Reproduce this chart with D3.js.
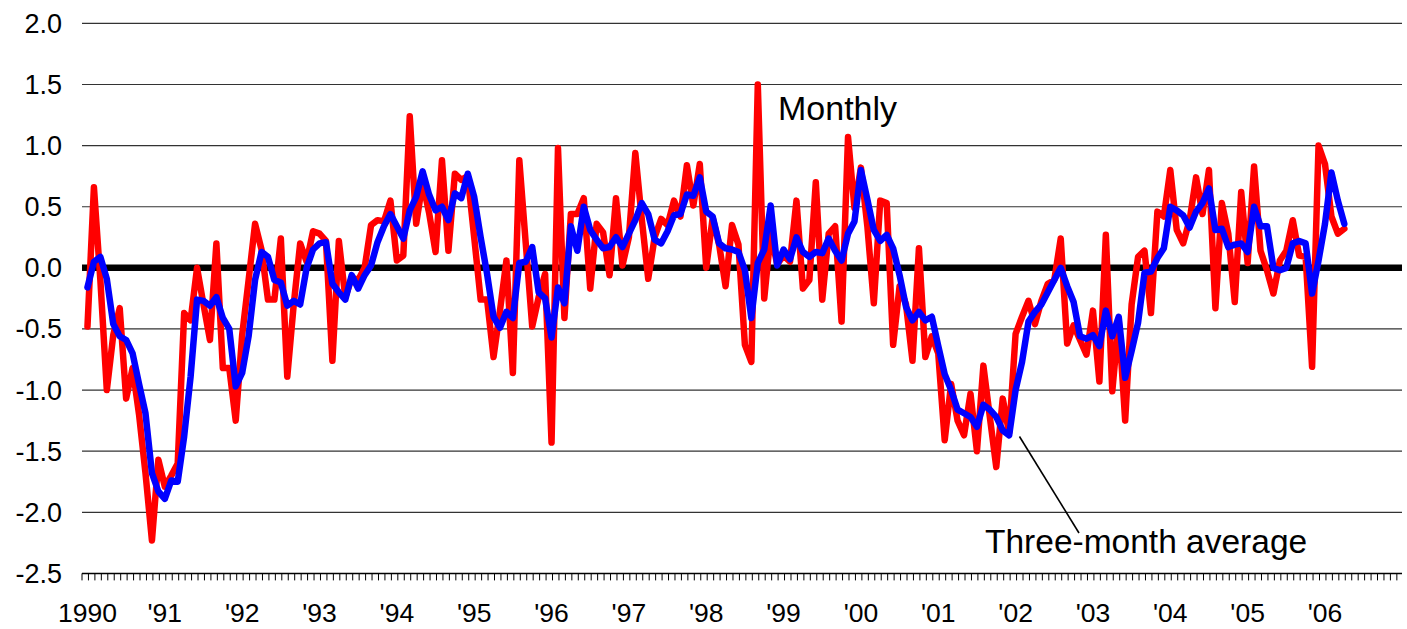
<!DOCTYPE html>
<html><head><meta charset="utf-8">
<script src="https://cdn.jsdelivr.net/npm/d3@7"></script>
<style>
html,body{margin:0;padding:0;background:#fff;}
svg{display:block;}
text{font-family:"Liberation Sans",Arial,Helvetica,sans-serif;fill:#000;}
</style></head>
<body>
<svg id="chart" width="1407" height="629"></svg>
<script>
// ---- data (Jan 1990 .. Apr 2006, one value per month) ----
const monthly = [
-0.48,0.66,-0.1,-1.0,-0.55,-0.33,-1.07,-0.82,-1.2,-1.68,-2.23,-1.57,
-1.79,-1.7,-1.6,-0.37,-0.43,0.0,-0.3,-0.59,0.2,-0.82,-0.82,-1.25,
-0.55,-0.1,0.36,0.15,-0.26,-0.26,0.24,-0.89,-0.3,0.2,0.05,0.3,
0.28,0.22,-0.76,0.22,-0.24,-0.08,-0.1,0.0,0.35,0.39,0.38,0.55,
0.06,0.1,1.24,0.36,0.7,0.45,0.13,0.88,0.14,0.77,0.72,0.75,
0.25,-0.26,-0.26,-0.73,-0.35,0.06,-0.86,0.88,0.2,-0.48,-0.24,-0.05,
-1.43,0.98,-0.41,0.44,0.44,0.57,-0.17,0.36,0.29,-0.06,0.57,0.02,
0.25,0.94,0.4,-0.09,0.25,0.4,0.35,0.55,0.42,0.84,0.51,0.85,
0.0,0.41,0.19,-0.15,0.35,0.19,-0.63,-0.77,1.5,-0.25,0.28,0.03,
0.1,0.05,0.55,-0.17,-0.1,0.7,-0.26,0.28,0.34,-0.44,1.07,0.49,
0.82,0.34,-0.29,0.55,0.53,-0.63,-0.15,-0.3,-0.76,0.16,-0.73,-0.56,
-0.7,-1.41,-0.95,-1.25,-1.37,-1.03,-1.5,-0.8,-1.22,-1.63,-1.07,-1.35,
-0.54,-0.4,-0.27,-0.46,-0.27,-0.13,-0.1,0.24,-0.62,-0.47,-0.59,-0.71,
-0.35,-0.93,0.27,-1.01,-0.43,-1.25,-0.3,0.09,0.14,-0.37,0.46,0.42,
0.8,0.31,0.2,0.39,0.74,0.44,0.8,-0.33,0.53,0.28,-0.28,0.62,
0.04,0.83,0.14,-0.02,-0.21,0.06,0.14,0.39,0.1,0.09,-0.81,1.0,
0.85,0.42,0.28,0.32
];
const threeMonthAvg = [
-0.16,0.05,0.09,-0.09,-0.46,-0.56,-0.59,-0.7,-0.95,-1.19,-1.68,-1.83,
-1.89,-1.74,-1.75,-1.38,-0.89,-0.26,-0.27,-0.31,-0.24,-0.41,-0.5,-0.97,
-0.86,-0.56,-0.1,0.13,0.09,-0.1,-0.12,-0.31,-0.27,-0.3,0.0,0.15,
0.2,0.21,-0.13,-0.2,-0.26,-0.06,-0.17,-0.06,0.02,0.21,0.34,0.44,
0.34,0.24,0.47,0.58,0.79,0.6,0.47,0.5,0.39,0.61,0.57,0.77,
0.58,0.25,-0.05,-0.4,-0.49,-0.36,-0.41,0.04,0.05,0.17,-0.2,-0.25,
-0.57,-0.16,-0.29,0.34,0.14,0.5,0.31,0.23,0.16,0.17,0.25,0.17,
0.28,0.39,0.53,0.44,0.23,0.2,0.3,0.43,0.44,0.6,0.59,0.74,
0.46,0.42,0.2,0.16,0.15,0.13,-0.02,-0.41,0.04,0.15,0.51,0.02,
0.15,0.07,0.25,0.13,0.09,0.13,0.12,0.24,0.14,0.06,0.28,0.38,
0.8,0.56,0.31,0.22,0.27,0.16,-0.06,-0.32,-0.43,-0.36,-0.43,-0.4,
-0.64,-0.87,-1.0,-1.16,-1.19,-1.22,-1.3,-1.12,-1.16,-1.22,-1.33,-1.37,
-1.0,-0.77,-0.44,-0.36,-0.3,-0.2,-0.1,0.0,-0.15,-0.28,-0.56,-0.58,
-0.55,-0.64,-0.35,-0.56,-0.4,-0.9,-0.68,-0.45,-0.04,-0.03,0.08,0.16,
0.5,0.47,0.43,0.33,0.46,0.53,0.65,0.31,0.32,0.17,0.19,0.2,
0.13,0.5,0.34,0.34,0.0,-0.02,0.0,0.2,0.22,0.2,-0.21,0.06,
0.36,0.78,0.55,0.36
];
const yTicks = [2.0,1.5,1.0,0.5,0.0,-0.5,-1.0,-1.5,-2.0,-2.5];
const yearLabels = ["1990","'91","'92","'93","'94","'95","'96","'97","'98","'99","'00","'01","'02","'03","'04","'05","'06"];
const monthCount = 204; // axis runs Jan 1990 .. Dec 2006

// ---- layout ----
const W = 1407, H = 629;
const plotL = 82, plotR = 1402, plotT = 23.4, plotB = 573.4;
const x = d3.scaleLinear().domain([-0.85, monthCount - 0.05]).range([plotL, plotR]);
const y = d3.scaleLinear().domain([-2.5, 2.0]).range([plotB, plotT]);

const svg = d3.select("#chart");
svg.append("rect").attr("width", W).attr("height", H).attr("fill", "#fff");

// gridlines
svg.append("g").selectAll("line")
  .data(yTicks.filter(d => d !== 0 && d !== -2.5))
  .join("line")
  .attr("x1", plotL).attr("x2", plotR)
  .attr("y1", d => y(d)).attr("y2", d => y(d))
  .attr("stroke", "#333").attr("stroke-width", 1.2);

// y labels
svg.append("g").selectAll("text")
  .data(yTicks).join("text")
  .attr("x", 62).attr("y", d => y(d))
  .attr("dy", "0.35em")
  .attr("text-anchor", "end")
  .attr("font-size", 27)
  .text(d => d.toFixed(1));

// x axis line and monthly ticks
svg.append("line")
  .attr("x1", plotL).attr("x2", plotR)
  .attr("y1", y(-2.5)).attr("y2", y(-2.5))
  .attr("stroke", "#000").attr("stroke-width", 1.5);
svg.append("g").selectAll("line")
  .data(d3.range(0, monthCount + 1))
  .join("line")
  .attr("x1", d => x(d - 0.85)).attr("x2", d => x(d - 0.85))
  .attr("y1", y(-2.5)).attr("y2", y(-2.5) + 7)
  .attr("stroke", "#000").attr("stroke-width", 1);

// year labels
svg.append("g").selectAll("text")
  .data(yearLabels).join("text")
  .attr("x", (d, i) => x(i * 12))
  .attr("y", 622)
  .attr("text-anchor", "middle")
  .attr("font-size", 26.5)
  .text(d => d);

// zero line
svg.append("line")
  .attr("x1", plotL).attr("x2", plotR)
  .attr("y1", y(0)).attr("y2", y(0))
  .attr("stroke", "#000").attr("stroke-width", 6.5);

// series
const line = d3.line().x((d, i) => x(i)).y(d => y(d));
svg.append("path").datum(monthly)
  .attr("d", line).attr("fill", "none")
  .attr("stroke", "#ff0000").attr("stroke-width", 6.5)
  .attr("stroke-linejoin", "round").attr("stroke-linecap", "round");
svg.append("path").datum(threeMonthAvg)
  .attr("d", line).attr("fill", "none")
  .attr("stroke", "#0000ff").attr("stroke-width", 6.5)
  .attr("stroke-linejoin", "round").attr("stroke-linecap", "round");

// annotations
svg.append("text").attr("x", 778).attr("y", 120).attr("font-size", 34).text("Monthly");
svg.append("text").attr("x", 985).attr("y", 553).attr("font-size", 33.5).text("Three-month average");
svg.append("line")
  .attr("x1", x(144.6)).attr("y1", y(-1.38))
  .attr("x2", 1079).attr("y2", 533)
  .attr("stroke", "#000").attr("stroke-width", 1.6);
</script>
</body></html>
